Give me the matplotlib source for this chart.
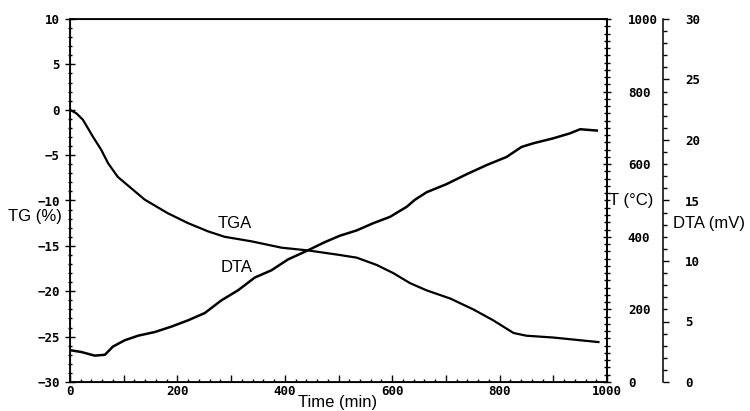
import matplotlib
matplotlib.use("Agg")
import matplotlib.pyplot as plt
from matplotlib.ticker import MultipleLocator, FuncFormatter

# TGA curve (TG %, vs time in min)
tga_time = [0, 12, 24, 43, 58, 71, 89, 111, 139, 182, 220, 257, 288, 338, 394, 443, 502,
            534, 571, 602, 633, 664, 708, 751, 788, 807, 826, 850, 900, 950, 984]
tga_val = [0.0, -0.4, -1.1, -3.0, -4.4, -5.9, -7.4, -8.5, -9.9, -11.4, -12.5, -13.4, -14.0, -14.5,
           -15.2, -15.5, -16.0, -16.3, -17.1, -18.0, -19.1, -19.9, -20.8, -22.0, -23.2,
           -23.9, -24.6, -24.9, -25.1, -25.4, -25.6]

# DTA curve (mV, vs time in min)
dta_time = [0, 21, 46, 65, 80, 102, 127, 158, 189, 220, 251, 282, 313, 344, 375, 406, 443,
            474, 502, 534, 565, 596, 627, 642, 664, 701, 739, 776, 813, 841, 863, 900, 931,
            950, 981]
dta_val = [2.63, 2.48, 2.18, 2.25, 2.93, 3.45, 3.83, 4.13, 4.58, 5.1, 5.7, 6.75, 7.58, 8.63,
           9.23, 10.13, 10.88, 11.55, 12.08, 12.53, 13.13, 13.65, 14.48, 15.05, 15.68, 16.35,
           17.18, 17.93, 18.6, 19.43, 19.73, 20.14, 20.55, 20.89, 20.78]

x_ticks = [0, 200, 400, 600, 800, 1000]
tg_ticks = [-30, -25, -20, -15, -10, -5, 0, 5, 10]
t_ticks = [0, 200, 400, 600, 800, 1000]
dta_ticks = [0, 5, 10, 15, 20, 25, 30]

W, H, DPI = 750, 411, 100
fig = plt.figure(figsize=(W / DPI, H / DPI), dpi=DPI)
x0, x1, ytop, ybot = 70, 607, 19, 382
ax = fig.add_axes([x0 / W, 1 - ybot / H, (x1 - x0) / W, (ybot - ytop) / H])

tick_font = dict(family="DejaVu Sans Mono", weight="bold", size=9)
lab_font = dict(family="Liberation Sans", size=12)


def style_ticklabels(axis_obj):
    for lab in axis_obj.get_ticklabels():
        lab.set_fontfamily(tick_font["family"])
        lab.set_fontweight("bold")
        lab.set_fontsize(tick_font["size"])


ax.plot(tga_time, tga_val, color="black", lw=1.6)
ax.set_xlim(0, 1000)
ax.set_ylim(-30, 10)
ax.xaxis.set_major_locator(MultipleLocator(100))
ax.xaxis.set_minor_locator(MultipleLocator(20))
ax.xaxis.set_major_formatter(FuncFormatter(lambda v, p: f"{int(v)}" if int(round(v)) in x_ticks else ""))
ax.set_yticks(tg_ticks)
ax.yaxis.set_minor_locator(MultipleLocator(1))
ax.tick_params(axis="x", which="major", direction="in", length=5, width=1, pad=2)
ax.tick_params(axis="x", which="minor", direction="in", length=2.5, width=1)
ax.tick_params(axis="y", which="major", direction="inout", length=7, width=1, pad=4)
ax.tick_params(axis="y", which="minor", direction="inout", length=3, width=1)
ax.tick_params(top=False, right=False, which="both")
style_ticklabels(ax.xaxis)
style_ticklabels(ax.yaxis)
for s in ax.spines.values():
    s.set_linewidth(1.3)

# T axis (right spine)
axT = ax.twinx()
axT.set_ylim(0, 1000)
axT.set_yticks(t_ticks)
axT.yaxis.set_minor_locator(MultipleLocator(20))
axT.tick_params(axis="y", which="major", direction="inout", length=6, width=1, pad=12)
axT.tick_params(axis="y", which="minor", direction="inout", length=4, width=1)
style_ticklabels(axT.yaxis)
axT.spines["right"].set_linewidth(1.3)

# DTA axis (offset spine)
axD = ax.twinx()
axD.spines["right"].set_position(("outward", 56 * 72 / DPI))
axD.spines["right"].set_linewidth(1.1)
for side in ["top", "left", "bottom"]:
    axD.spines[side].set_visible(False)
axD.plot(dta_time, dta_val, color="black", lw=1.8)
axD.set_ylim(0, 30)
axD.set_yticks(dta_ticks)
axD.yaxis.set_minor_locator(MultipleLocator(1))
axD.tick_params(axis="y", which="major", direction="out", length=4, width=1, pad=12)
axD.tick_params(axis="y", which="minor", direction="out", length=3, width=1)
style_ticklabels(axD.yaxis)

ax.text(307, -12.5, "TGA", ha="center", va="center", **lab_font)
ax.text(310, -17.4, "DTA", ha="center", va="center", **lab_font)

fig.text(8 / W, 1 - 216 / H, "TG (%)", ha="left", va="center", **lab_font)
fig.text(631 / W, 1 - 200 / H, "T (°C)", ha="center", va="center", **lab_font)
fig.text(673 / W, 1 - 223 / H, "DTA (mV)", ha="left", va="center", **lab_font)
fig.text(338 / W, 1 - 402 / H, "Time (min)", ha="center", va="center", **lab_font)

fig.savefig("out.png", dpi=DPI)
